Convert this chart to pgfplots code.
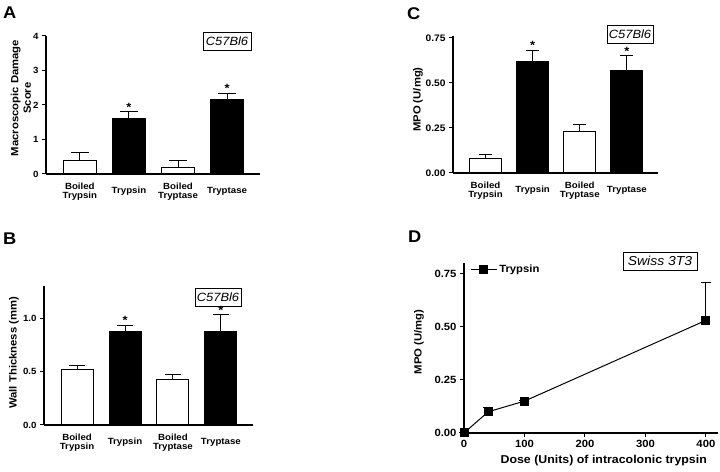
\documentclass[border=0pt]{standalone}
\usepackage{fontspec}
\setmainfont{Liberation Sans}[FakeStretch=1.08]
\usepackage{pgfplots}
\pgfplotsset{compat=1.18}

\newcommand{\fs}[1]{\fontsize{#1}{#1}\selectfont}

\tikzset{astr/.style={anchor=south, inner sep=0.5bp, font=\bfseries\fs{12}}}

\pgfplotsset{
  base/.style={
    scale only axis,
    anchor=south west,
    axis lines*=left,
    axis line style={line width=1.1pt,-},
    tick align=outside,
    major tick length=4bp,
    tick style={black,line width=1pt},
    clip=false,
    /pgf/number format/assume math mode=true,
  },
  ylab/.style 2 args={every axis y label/.style={at={(axis description cs:#1,#2)},
    rotate=90, anchor=center, font=\bfseries\fs{10.5}, align=center}},
  bars/.style={
    base,
    xtick={0,1,2,3},
    xticklabels={{Boiled\\Trypsin},Trypsin,{Boiled\\Tryptase},Tryptase},
    major x tick style={draw=none},
    xticklabel style={font=\bfseries\fs{9}, align=center, anchor=center,
      yshift=-12.5bp, text depth=0pt},
    yticklabel style={font=\bfseries\fs{9}},
    ymin=0,
  },
  whitebar/.style={ybar, bar shift=0pt, bar width=#1, fill=white, draw=black, line width=1pt},
  blackbar/.style={ybar, bar shift=0pt, bar width=#1, fill=black, draw=black, line width=1pt},
  errs/.style={error bars/.cd, y dir=plus, y explicit,
    error bar style={black,line width=1pt},
    error mark options={rotate=90,black,line width=1pt,mark size=#1}},
}

\begin{document}
\begin{tikzpicture}[x=1bp,y=1bp]
\useasboundingbox (0,0) rectangle (720,472);

% ---- A ----
\begin{axis}[bars, at={(46bp,298bp)}, width=214bp, height=138bp,
  xmin=-0.69, xmax=3.67, ymax=4, ytick={0,1,2,3,4},
  ylab={-0.117}{0.55},
  ylabel={Macroscopic Damage\\[2bp]Score}]
\addplot[whitebar=33bp, errs=9bp] coordinates {(0,0.40) +- (0,0.23) (2,0.20) +- (0,0.20)};
\addplot[blackbar=33bp, errs=9bp] coordinates {(1,1.60) +- (0,0.20) (3,2.17) +- (0,0.16)};
\node[astr] at (axis cs:1,1.80) {*};
\node[astr] at (axis cs:3,2.33) {*};
\end{axis}

% ---- B ----
\begin{axis}[bars, at={(44bp,47bp)}, width=209bp, height=139bp,
  xmin=-0.69, xmax=3.67, ymax=1.3, ytick={0,0.5,1.0},
  yticklabel style={/pgf/number format/.cd, fixed, fixed zerofill, precision=1},
  ylab={-0.144}{0.52},
  ylabel={Wall Thickness (mm)}]
\addplot[whitebar=32bp, errs=8bp] coordinates {(0,0.52) +- (0,0.04) (2,0.43) +- (0,0.04)};
\addplot[blackbar=32bp, errs=8bp] coordinates {(1,0.87) +- (0,0.06) (3,0.87) +- (0,0.16)};
\node[astr] at (axis cs:1,0.93) {*};
\node[astr] at (axis cs:3,1.03) {*};
\end{axis}

% ---- C ----
\begin{axis}[bars, at={(453bp,299bp)}, width=205bp, height=137bp,
  xmin=-0.69, xmax=3.66, ymax=0.76, ytick={0,0.25,0.5,0.75},
  yticklabel style={font=\bfseries\fs{9.5}, /pgf/number format/.cd, fixed, fixed zerofill, precision=2},
  ylab={-0.171}{0.536},
  ylabel={MPO (U/mg)}]
\addplot[whitebar=32bp, errs=6.5bp] coordinates {(0,0.08) +- (0,0.02) (2,0.23) +- (0,0.04)};
\addplot[blackbar=32bp, errs=6.5bp] coordinates {(1,0.62) +- (0,0.06) (3,0.57) +- (0,0.08)};
\node[astr] at (axis cs:1,0.68) {*};
\node[astr] at (axis cs:3,0.65) {*};
\end{axis}

% ---- D ----
\begin{axis}[base, at={(464bp,39bp)}, width=254bp, height=170bp,
  xmin=0, xmax=420, ymin=0, ymax=0.8,
  xtick={0,100,200,300,400}, ytick={0,0.25,0.5,0.75},
  ticklabel style={font=\bfseries\fs{10.5}},
  yticklabel style={/pgf/number format/.cd, fixed, fixed zerofill, precision=2},
  ylab={-0.177}{0.535},
  ylabel={MPO (U/mg)},
  xlabel={Dose (Units) of intracolonic trypsin},
  xlabel style={font=\bfseries\fs{11.5}, at={(ticklabel cs:0.55)}},
  legend style={draw=none, fill=none, at={(rel axis cs:0.02,1.01)}, anchor=north west,
    font=\bfseries\fs{10.5}, inner sep=1bp},
  legend image code/.code={\draw[mark repeat=2,mark phase=2,#1]
    plot coordinates {(0bp,0bp) (13bp,0bp) (26bp,0bp)};}]
\addplot[black, line width=1pt, mark=square*, mark size=4bp, errs=5bp]
  coordinates {(0,0) +- (0,0) (40,0.10) +- (0,0.02) (100,0.15) +- (0,0.005) (400,0.53) +- (0,0.18)};
\addlegendentry{Trypsin}
\end{axis}

% ---- panel letters and strain boxes ----
\node[anchor=north west, inner sep=0, font=\bfseries\fs{17}] at (3,465) {A};
\node[anchor=north west, inner sep=0, font=\bfseries\fs{17}] at (407,465) {C};
\node[anchor=north west, inner sep=0, font=\bfseries\fs{17}] at (3,239) {B};
\node[anchor=north west, inner sep=0, font=\bfseries\fs{17}] at (408,241) {D};
\tikzset{strain/.style={draw, line width=0.8pt, inner sep=0, minimum height=18bp, font=\itshape\fs{12}}}
\node[strain, minimum width=48bp] at (227,430.5) {C57Bl6};
\node[strain, minimum width=46bp] at (630,438) {C57Bl6};
\node[strain, minimum width=46bp] at (218,175) {C57Bl6};
\node[strain, minimum width=74bp, font=\itshape\fs{13}] at (660,211) {Swiss 3T3};
\end{tikzpicture}
\end{document}
